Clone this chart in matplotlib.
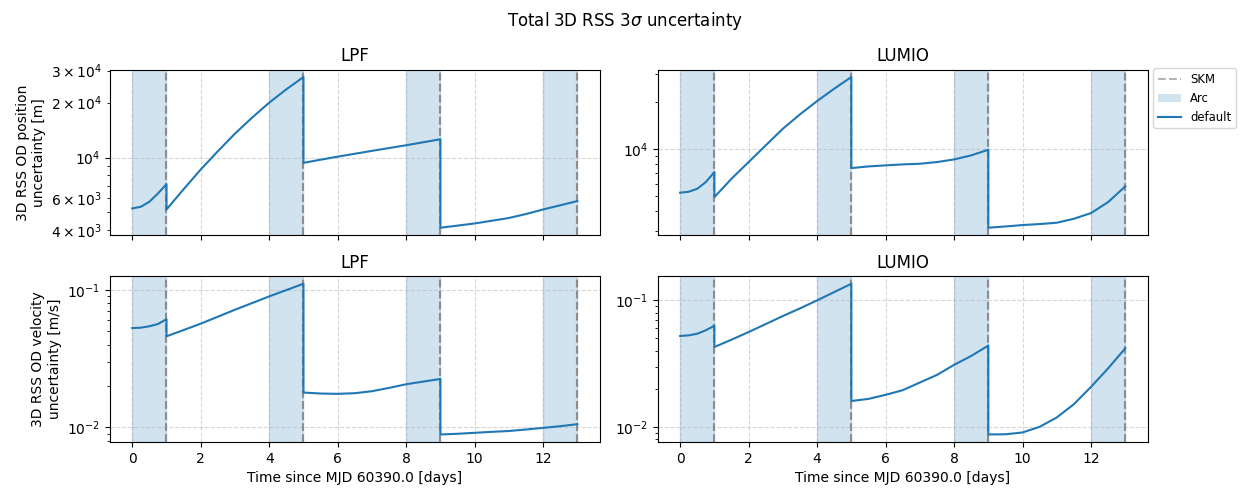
import matplotlib
matplotlib.use("Agg")
import matplotlib.pyplot as plt
from matplotlib.lines import Line2D
from matplotlib.patches import Patch

# Time samples [days]; repeated times mark the SKM jumps
time_days = [0, 0.25, 0.5, 0.75, 1,
             1, 1.5, 2, 2.5, 3, 3.5, 4, 4.5, 5,
             5, 5.5, 6, 6.5, 7, 7.5, 8, 8.5, 9,
             9, 9.5, 10, 10.5, 11, 11.5, 12, 12.5, 13]

lpf_pos = [5260, 5370, 5720, 6350, 7150,
           5190, 6700, 8600, 10830, 13530, 16550, 20000, 23660, 27640,
           9350, 9730, 10110, 10490, 10880, 11270, 11680, 12130, 12600,
           4120, 4232, 4350, 4500, 4660, 4900, 5190, 5470, 5770]

lumio_pos = [5260, 5335, 5575, 6150, 7130,
             4930, 6460, 8260, 10560, 13490, 16660, 20280, 24320, 28880,
             7560, 7745, 7863, 7980, 8055, 8257, 8587, 9110, 9903,
             3140, 3200, 3266, 3315, 3380, 3584, 3896, 4580, 5770]

lpf_vel = [0.0527, 0.0530, 0.0543, 0.0564, 0.0610,
           0.0459, 0.0510, 0.0567, 0.0637, 0.0716, 0.0800, 0.0895, 0.0994, 0.1105,
           0.01794, 0.01764, 0.01755, 0.01774, 0.01834, 0.01938, 0.0206, 0.02155, 0.0225,
           0.0089, 0.0090, 0.00915, 0.0093, 0.00943, 0.00967, 0.00994, 0.01022, 0.01057]

lumio_vel = [0.0523, 0.0529, 0.0545, 0.0580, 0.0631,
             0.0428, 0.0489, 0.0562, 0.0650, 0.0752, 0.0865, 0.1000, 0.1164, 0.1354,
             0.0160, 0.01663, 0.0179, 0.01948, 0.0224, 0.02573, 0.0309, 0.03634, 0.0439,
             0.0087, 0.00873, 0.00902, 0.0100, 0.01186, 0.0151, 0.0207, 0.0290, 0.0418]

arc_starts = [0, 4, 8, 12]
arc_ends = [1, 5, 9, 13]
skm_times = [1, 5, 9, 13]

titles = ["LPF", "LUMIO"]
ylabels = ["3D RSS OD position\nuncertainty [m]", "3D RSS OD velocity\nuncertainty [m/s]"]
xlabel = "Time since MJD 60390.0 [days]"

fig, axes = plt.subplots(2, 2, figsize=(12.5, 5), dpi=100, sharex=True)
fig.subplots_adjust(left=0.088, right=0.918, top=0.861, bottom=0.116,
                    wspace=0.119, hspace=0.247)
fig.suptitle(r"Total 3D RSS 3$\sigma$ uncertainty")

data = [[lpf_pos, lumio_pos], [lpf_vel, lumio_vel]]

for r in range(2):
    for c in range(2):
        ax = axes[r, c]
        for s, e in zip(arc_starts, arc_ends):
            ax.axvspan(s, e, color="tab:blue", alpha=0.2)
        for _ in range(2):
            for t in skm_times:
                ax.axvline(t, color="gray", linestyle="--", alpha=0.6, linewidth=1.5)
        ax.plot(time_days, data[r][c], color="tab:blue", linewidth=1.5)
        ax.set_yscale("log")
        ax.grid(True, linestyle="--", alpha=0.5)
        ax.set_title(titles[c])
        if c == 0:
            ax.set_ylabel(ylabels[r])
        if r == 1:
            ax.set_xlabel(xlabel)

handles = [Line2D([0], [0], color="gray", linestyle="--", alpha=0.6, linewidth=1.5),
           Patch(facecolor="tab:blue", alpha=0.2),
           Line2D([0], [0], color="tab:blue", linewidth=1.5)]
axes[0, 1].legend(handles, ["SKM", "Arc", "default"], loc="upper left",
                  bbox_to_anchor=(1.0, 1.041), fontsize="small")

fig.savefig("out.png", dpi=100)
